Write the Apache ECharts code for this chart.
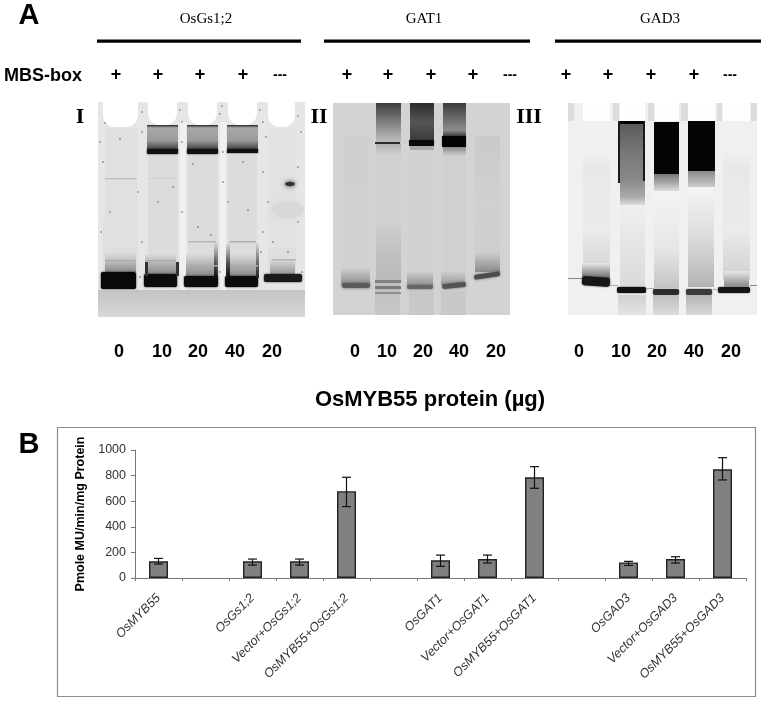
<!DOCTYPE html>
<html><head><meta charset="utf-8">
<style>html,body{margin:0;padding:0;background:#fff}#c{width:768px;height:702px}</style>
<script src="https://cdn.jsdelivr.net/npm/echarts@6/dist/echarts.min.js"></script></head>
<body><div id="c"></div>
<script>
const categories=['OsMYB55','','OsGs1;2','Vector+OsGs1;2','OsMYB55+OsGs1;2','','OsGAT1','Vector+OsGAT1','OsMYB55+OsGAT1','','OsGAD3','Vector+OsGAD3','OsMYB55+OsGAD3'];
const values=[130,null,130,130,678,null,138,148,787,null,122,148,849];
const errLow=[109,null,101,101,558,null,91,117,701,null,98,117,766];
const errHigh=[153,null,148,148,787,null,179,179,870,null,130,166,940];
const yTicks=[0,200,400,600,800,1000];
const SERIF='"Liberation Serif"', SANS='"Liberation Sans"';
function txt(t,x,y,size,font,weight,color){return{type:'text',x,y,style:{text:t,font:`${weight||'normal'} ${size}px ${font||SANS}`,fill:color||'#000',textAlign:'center',textVerticalAlign:'middle'}}}
function rect(x,y,w,h,fill,r){return{type:'rect',shape:{x,y,width:w,height:h,r:r||0},style:{fill}}}
function soft(x,y,w,h,fill,blur,r){return{type:'rect',shape:{x,y,width:w,height:h,r:r||0},style:{fill,shadowBlur:blur,shadowColor:fill}}}
function vg(stops){return{type:'linear',x:0,y:0,x2:0,y2:1,colorStops:stops.map(s=>({offset:s[0],color:s[1]}))}}
function gel(x,y,w,h,children){return{type:'group',x,y,children,clipPath:{type:'rect',shape:{x:0,y:0,width:w,height:h}}}}
const els=[];
// headings
els.push(txt('A',29,16,29,SANS,'bold'),txt('B',29,445,29,SANS,'bold'));
[['OsGs1;2',206],['GAT1',424],['GAD3',660]].forEach(a=>els.push(txt(a[0],a[1],19,15,SERIF)));
[[97,204],[324,206],[555,206]].forEach(a=>els.push(rect(a[0],39.5,a[1],3.2,'#000')));
els.push(txt('MBS-box',43,76,18,SANS,'bold'));
[[116,158,200,243,280],[347,388,431,473,510],[566,608,651,694,730]].forEach(r=>r.forEach((x,i)=>els.push(txt(i<4?'+':'---',x,75,i<4?18:14,SANS,'bold'))));
[['I',80,117],['II',319,117],['III',529,117]].forEach(a=>els.push(txt(a[0],a[1],a[2],22,SERIF,'bold')));
const lanes=['0','10','20','40','20'];
[[119,162,198,235,272],[355,387,423,459,496],[579,621,657,694,731]].forEach(r=>r.forEach((x,i)=>els.push(txt(lanes[i],x,352,18,SANS,'bold'))));
els.push(txt('OsMYB55 protein (µg)',430,400,22,SANS,'bold'));

// Gel I
const g1=[rect(0,0,207,215,'#e6e6e6')];
[[5,35],[50,30],[90,30],[130,29],[170,28]].forEach(l=>g1.push(rect(l[0],120,l[1],50,'#dedede')));
[[7,32,'#e0e0e0'],[170,28,'#e2e2e2']].forEach(l=>g1.push(rect(l[0],26,l[1],120,l[2])));
[[50,30],[90,30],[130,29]].forEach(l=>g1.push(rect(l[0],53,l[1],115,'#dcdcdc')));
[[82,6],[122,6]].forEach(l=>g1.push(rect(l[0],20,l[1],170,'#f0f0f0')));
[[5,35,25],[50,29,23],[90,29,23],[130,29,23],[170,27,25]].forEach(l=>g1.push(rect(l[0],-10,l[1],l[2]+10,'#fff',[0,0,12,12])));
[[49,31,5],[89,31,5],[129,31,4]].forEach(l=>{
 g1.push(rect(l[0],23,l[1],28,vg([[0,'#222'],[.1,'#a8a8a8'],[.55,'#9a9a9a'],[.8,'#555'],[1,'#111']])));
 g1.push(soft(l[0],47,l[1],l[2],'#111',2,1));
});
// lower bands
g1.push(rect(7,150,31,20,vg([[0,'#dedede'],[.4,'#c4c4c4'],[1,'#8a8a8a']])),soft(3,170,35,17,'#080808',2,2));
g1.push(rect(47,152,31,20,vg([[0,'#dcdcdc'],[1,'#888']])),soft(46,172,33,13,'#0c0c0c',2,2));
g1.push(rect(88,152,30,22,vg([[0,'#dcdcdc'],[1,'#888']])),soft(86,174,34,11,'#0c0c0c',2,2));
g1.push(rect(128,152,30,22,vg([[0,'#dcdcdc'],[1,'#888']])),soft(127,174,33,11,'#0c0c0c',2,2));
g1.push(rect(172,157,25,15,vg([[0,'#dcdcdc'],[1,'#999']])),soft(166,172,38,8,'#1a1a1a',2,2));
g1.push(rect(116,140,4,36,vg([[0,'rgba(0,0,0,0)'],[1,'#111']])),rect(128,140,4,36,vg([[0,'rgba(0,0,0,0)'],[1,'#111']])),rect(158,140,3,36,vg([[0,'rgba(0,0,0,0)'],[1,'#222']])),rect(47,160,3,14,'#333'),rect(78,160,3,14,'#333'));
g1.push(rect(0,188,207,27,vg([[0,'#c4c4c4'],[.5,'#cdcdcd'],[1,'#d9d9d9']])));
g1.push(rect(7,76,32,1.5,'#c0c0c0'),rect(50,76,28,1,'#d0d0d0'),rect(7,158,30,1.5,'#aaa'),rect(48,158,30,1.5,'#aaa'),rect(90,139,28,1.5,'#b5b5b5'),rect(132,139,26,1.5,'#b0b0b0'),rect(90,163,30,1.5,'#aaa'),rect(132,163,28,1.5,'#aaa'),rect(174,157,24,1.5,'#b5b5b5'));
g1.push({type:'ellipse',shape:{cx:192,cy:82,rx:5,ry:2.2},style:{fill:'#333',shadowBlur:5,shadowColor:'#333'}});
g1.push({type:'ellipse',shape:{cx:190,cy:108,rx:16,ry:8},style:{fill:'#d8d8d8',shadowBlur:6,shadowColor:'#d8d8d8'}});
[[22,37],[7,21],[60,100],[75,85],[100,125],[113,133],[130,100],[150,108],[175,140],[190,150],[170,100],[12,110],[40,90],[95,62],[145,60],[168,35],[5,60],[200,120],[44,10],[82,8],[84,20],[122,12],[124,4],[162,8],[165,20],[200,14],[203,30],[44,30],[84,40],[125,50],[165,70],[200,65],[44,140],[84,110],[125,80],[165,130],[2,40],[3,130],[204,170],[42,175],[122,170],[163,150]].forEach(p=>g1.push({type:'circle',shape:{cx:p[0],cy:p[1],r:.7},style:{fill:'#444'}}));
els.push(gel(98,102,207,215,g1));

// Gel II
const g2=[rect(0,0,177,212,'#d3d3d3')];
g2.push(rect(10,33,26,130,vg([[0,'#cfcfcf'],[1,'#d1d1d1']])),rect(142,33,25,140,vg([[0,'#cacaca'],[.5,'#d0d0d0'],[1,'#cccccc']])));
g2.push(rect(43,50,25,125,'#d0d0d0'),rect(77,50,24,125,'#d1d1d1'),rect(110,50,23,125,'#d0d0d0'));
g2.push(rect(43,120,25,60,vg([[0,'#d0d0d0'],[.5,'#c0c0c0'],[1,'#b8b8b8']])));
g2.push(rect(43,0,25,42,vg([[0,'#3c3c3c'],[.35,'#707070'],[.75,'#a8a8a8'],[1,'#c4c4c4']])));
g2.push(rect(42,39,25,2,'#2a2a2a'),rect(43,41,25,11,vg([[0,'#b0b0b0'],[1,'#d0d0d0']])));
g2.push(rect(77,0,24,38,vg([[0,'#2c2c2c'],[.5,'#555'],[1,'#3a3a3a']])),soft(76,37,25,6,'#0a0a0a',1,1),rect(77,43,24,4,'#aaa'));
g2.push(rect(110,0,23,34,vg([[0,'#3a3a3a'],[.4,'#666'],[.8,'#8c8c8c'],[1,'#333']])),soft(109,33,24,11,'#050505',1,1),rect(110,44,23,9,vg([[0,'#888'],[1,'#d0d0d0']])));
g2.push(rect(8,165,29,17,vg([[0,'#d1d1d1'],[1,'#8a8a8a']])),soft(9,180,28,5,'#5a5a5a',3,2.5));
g2.push(rect(42,176,25,36,vg([[0,'#bbb'],[1,'#c8c8c8']])),rect(42,177,26,3,'#808080'),rect(42,183,26,3,'#7a7a7a'),rect(42,189,26,2,'#909090'));
g2.push(rect(74,168,26,16,vg([[0,'#d0d0d0'],[1,'#8a8a8a']])),soft(74,182,26,4,'#666',3,2),rect(76,188,25,24,'#c8c8c8'));
g2.push(rect(108,168,24,14,vg([[0,'#d0d0d0'],[1,'#999']])),{type:'rect',shape:{x:109,y:180,width:24,height:5,r:2},rotation:.1,originX:120,originY:182,style:{fill:'#555',shadowBlur:3,shadowColor:'#666'}},rect(108,188,25,24,'#c8c8c8'));
g2.push(rect(142,150,25,19,vg([[0,'#cccccc'],[1,'#8a8a8a']])),{type:'rect',shape:{x:141,y:170,width:26,height:5,r:2},rotation:.15,originX:154,originY:172,style:{fill:'#4c4c4c',shadowBlur:3,shadowColor:'#666'}});
els.push(gel(333,103,177,212,g2));

// Gel III
const g3=[rect(0,0,189,212,'#f0f0f0')];
[[0,6],[45,6],[80,6],[113,7],[149,5],[183,6]].forEach(l=>g3.push(rect(l[0],0,l[1],18,'#dcdcdc')));
[[15,27],[52,25],[87,24],[120,27],[155,27]].forEach(l=>g3.push(rect(l[0],0,l[1],18,'#fefefe')));
[[15,27],[155,27]].forEach(l=>g3.push(rect(l[0],50,l[1],127,vg([[0,'#f0f0f0'],[.1,'#e8e8e8'],[.6,'#ebebeb'],[1,'#d0d0d0']]))));
g3.push(rect(52,20,25,82,vg([[0,'#5a5a5a'],[.35,'#777'],[.7,'#8a8a8a'],[.9,'#aaa'],[1,'#ddd']])),rect(50,18,27,3,'#000'),rect(50,18,2,62,'#1a1a1a'),rect(75,18,2,60,'#1a1a1a'));
g3.push(rect(86,19,25,52,'#040404'),rect(86,71,25,17,vg([[0,'#777'],[.7,'#bbb'],[1,'#ddd']])));
g3.push(rect(120,18,27,50,'#040404'),rect(120,68,27,16,vg([[0,'#8a8a8a'],[1,'#ccc']])));
g3.push(rect(52,102,25,82,vg([[0,'#efefef'],[1,'#dadada']])),rect(86,88,25,97,vg([[0,'#f4f4f4'],[.6,'#e6e6e6'],[1,'#c4c4c4']])),rect(120,84,26,100,vg([[0,'#f4f4f4'],[.5,'#dcdcdc'],[1,'#b4b4b4']])));
g3.push(rect(14,160,28,16,vg([[0,'#e8e8e8'],[1,'#666']])),{type:'rect',shape:{x:14,y:174,width:28,height:9,r:3},rotation:-.07,originX:28,originY:178,style:{fill:'#161616',shadowBlur:2,shadowColor:'#222'}});
g3.push(soft(49,184,29,6,'#111',1.5,2),soft(85,186,26,6,'#2a2a2a',1.5,2),soft(118,186,26,6,'#3a3a3a',1.5,2),soft(150,184,32,6,'#141414',1.5,2));
g3.push(rect(156,168,25,16,vg([[0,'#e8e8e8'],[1,'#888']])));
g3.push(rect(0,175,14,1,'#888'),rect(42,182,8,1,'#aaa'),rect(78,185,8,1,'#aaa'),rect(145,186,5,1,'#aaa'),rect(182,182,7,1,'#888'));
g3.push(rect(50,192,28,20,vg([[0,'#d0d0d0'],[1,'#e4e4e4']])),rect(85,192,26,20,vg([[0,'#bdbdbd'],[1,'#dcdcdc']])),rect(118,192,26,20,vg([[0,'#b4b4b4'],[1,'#d8d8d8']])));
els.push(gel(568,103,189,212,g3));
// Panel B frame
els.push({type:'rect',shape:{x:57.5,y:427.5,width:698,height:269},style:{fill:'none',stroke:'#8c8c8c',lineWidth:1.2},z:-1});

const chart=echarts.init(document.getElementById('c'),null,{renderer:'canvas'});
chart.setOption({
 animation:false,
 backgroundColor:'#fff',
 graphic:{elements:els},
 grid:{left:135,right:22,top:450,height:128},
 xAxis:{type:'category',data:categories,axisTick:{show:true,length:3,lineStyle:{color:'#777'}},axisLine:{lineStyle:{color:'#777'}},
  axisLabel:{interval:0,rotate:45,margin:18,color:'#333',fontFamily:SANS,fontSize:12.5,fontStyle:'italic'}},
 yAxis:{type:'value',min:0,max:1000,interval:200,splitLine:{show:false},axisLine:{show:true,lineStyle:{color:'#777'}},axisTick:{show:true,length:4,lineStyle:{color:'#777'}},
  axisLabel:{color:'#333',fontFamily:SANS,fontSize:12.5,margin:9,customValues:yTicks,formatter:v=>String(v)},
  name:'Pmole MU/min/mg Protein',nameLocation:'middle',nameRotate:90,nameGap:47,nameTextStyle:{fontFamily:SANS,fontWeight:'bold',fontSize:12.5,color:'#000'}},
 series:[
  {type:'bar',data:values,barWidth:19,itemStyle:{color:'#808080',borderColor:'#222',borderWidth:1.4}},
  {type:'custom',z:5,data:values.map((v,i)=>v==null?[i,null,null]:[i,errLow[i],errHigh[i]]),encode:{x:0,y:[1,2]},
   renderItem(p,api){
     const lo=api.value(1),hi=api.value(2);
     if(lo==null||isNaN(lo)) return;
     const a=api.coord([api.value(0),lo]),b=api.coord([api.value(0),hi]),c=4.5;
     return{type:'group',children:[[a[0],a[1],b[0],b[1]],[a[0]-c,a[1],a[0]+c,a[1]],[b[0]-c,b[1],b[0]+c,b[1]]].map(s=>({type:'line',shape:{x1:s[0],y1:s[1],x2:s[2],y2:s[3]},style:{stroke:'#111',lineWidth:1.2}}))};
   }}
 ]
});
</script></body></html>
